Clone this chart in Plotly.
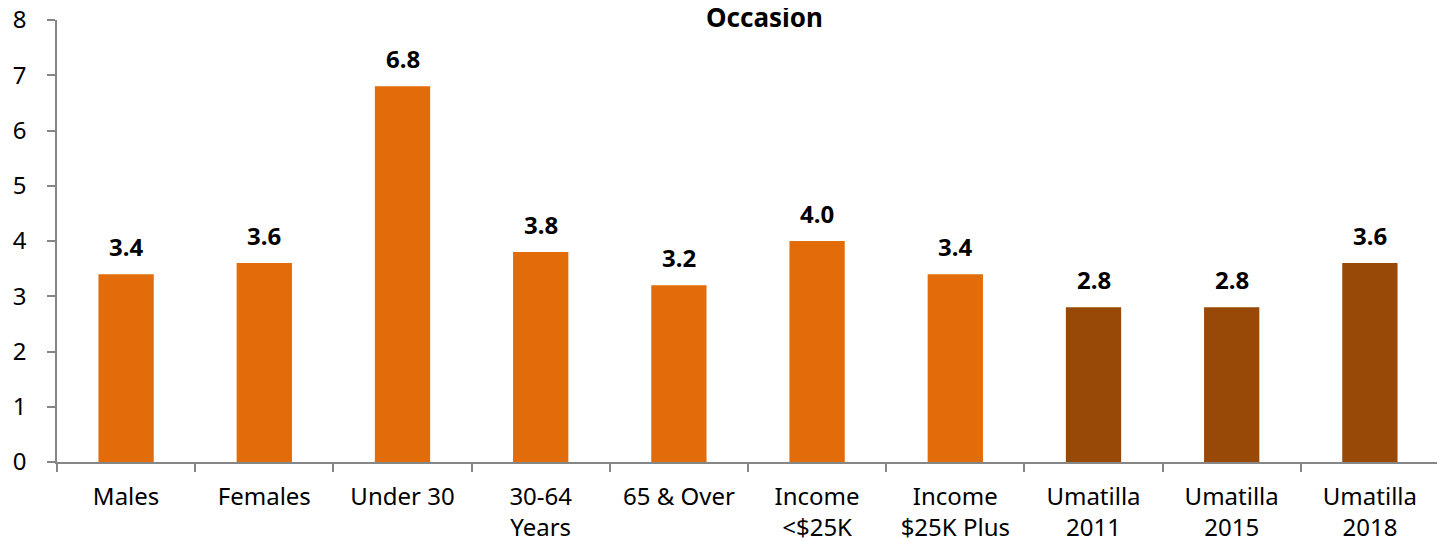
import plotly.graph_objects as go

categories = ["Males", "Females", "Under 30", "30-64<br>Years", "65 & Over",
              "Income<br><$25K", "Income<br>$25K Plus", "Umatilla<br>2011",
              "Umatilla<br>2015", "Umatilla<br>2018"]
values = [3.4, 3.6, 6.8, 3.8, 3.2, 4.0, 3.4, 2.8, 2.8, 3.6]
labels = ["3.4", "3.6", "6.8", "3.8", "3.2", "4.0", "3.4", "2.8", "2.8", "3.6"]
bar_colors = ["#E36C0A"] * 7 + ["#984807"] * 3
title_text = "Occasion"

FONT = "Noto Sans, Open Sans, sans-serif"

fig = go.Figure()
fig.add_trace(go.Bar(
    x=categories, y=values,
    marker=dict(color=bar_colors, line=dict(width=0)),
    width=0.4,
    hoverinfo="x+y",
))

for c, v, t in zip(categories, values, labels):
    fig.add_annotation(x=c, y=v, text=f"<b>{t}</b>", showarrow=False,
                       yanchor="bottom", yshift=9,
                       font=dict(family=FONT, size=24, color="#000000"))

fig.add_annotation(xref="paper", yref="paper", x=0.512, y=1.0, yshift=3,
                   text=f"<b>{title_text}</b>", showarrow=False,
                   xanchor="center", yanchor="middle",
                   font=dict(family=FONT, size=26, color="#000000"))

# page body has an 8px margin, so the figure is sized/offset to compensate
fig.update_layout(
    width=1437, height=534,
    margin=dict(l=49, r=6, t=12, b=80, autoexpand=False),
    paper_bgcolor="white", plot_bgcolor="white",
    showlegend=False,
    bargap=0.6,
    font=dict(family=FONT, size=24, color="#000000"),
    xaxis=dict(
        type="category", automargin=False,
        showline=True, linecolor="#868686", linewidth=1.5,
        ticks="outside", ticklen=8, tickcolor="#868686", tickwidth=1.5,
        tickson="boundaries",
        showgrid=False, zeroline=False,
        ticklabelstandoff=12,
        tickfont=dict(family=FONT, size=24, color="#000000"),
    ),
    yaxis=dict(
        range=[0, 8], dtick=1, automargin=False,
        showline=True, linecolor="#868686", linewidth=1.5,
        ticks="outside", ticklen=8, tickcolor="#868686", tickwidth=1.5,
        showgrid=False, zeroline=False,
        ticklabelstandoff=16, ticklabeloverflow="allow",
        tickfont=dict(family=FONT, size=24, color="#000000"),
    ),
)

fig.write_html("out.html")
